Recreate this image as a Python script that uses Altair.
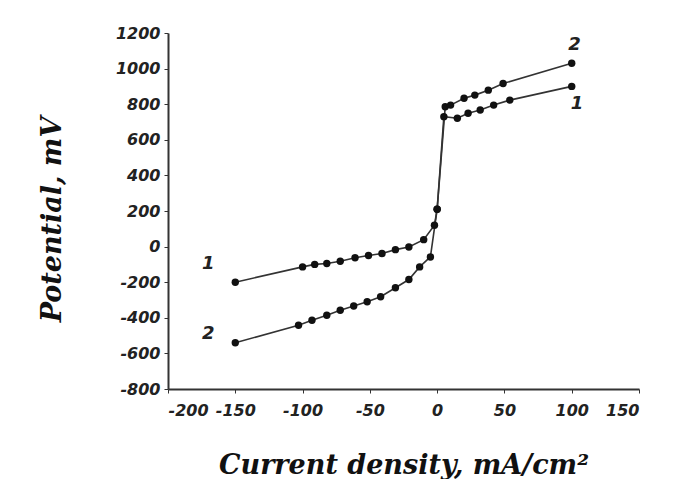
import altair as alt
import pandas as pd

# Curve 1
x1 = [-150, -100, -91, -82, -72, -61, -51, -41, -31, -21, -10, -2, 0, 5, 15, 23, 32, 42, 54, 100]
y1 = [-200, -114, -100, -95, -82, -63, -50, -39, -17, -2, 39, 120, 210, 730, 721, 749, 767, 795, 823, 900]
# Curve 2
x2 = [-150, -103, -93, -82, -72, -62, -52, -42, -31, -21, -13, -5, 0, 6, 10, 20, 28, 38, 49, 100]
y2 = [-540, -442, -414, -386, -358, -334, -310, -282, -231, -185, -114, -58, 210, 786, 795, 833, 851, 879, 916, 1030]

x_ticks = [-200, -150, -100, -50, 0, 50, 100, 150]
y_ticks = [-800, -600, -400, -200, 0, 200, 400, 600, 800, 1000, 1200]

label_text = ["1", "2", "2", "1"]
label_x = [-170, -170, 102, 104]
label_y = [-100, -490, 1130, 800]

rows = []
for i, (a, b) in enumerate(zip(x1, y1)):
    rows.append({"curve": "1", "i": i, "x": a, "y": b})
for i, (a, b) in enumerate(zip(x2, y2)):
    rows.append({"curve": "2", "i": i, "x": a, "y": b})
df = pd.DataFrame(rows)
labels = pd.DataFrame({"t": label_text, "x": label_x, "y": label_y})

xscale = alt.Scale(domain=[-200, 150], nice=False, zero=False)
yscale = alt.Scale(domain=[-800, 1200], nice=False, zero=False)

label_font = "DejaVu Sans"
title_font = "DejaVu Serif"
lab_expr = "datum.value < 0 ? '-' + abs(datum.value) : '' + datum.value"

xenc = alt.X("x:Q", scale=xscale, axis=alt.Axis(
    values=x_ticks, title="Current density, mA/cm²", grid=False,
    labelExpr=lab_expr, labelOverlap=False, tickCount=8,
    labelFont=label_font, labelFontStyle="italic", labelFontWeight="bold",
    labelFontSize=16, labelColor="#222", labelPadding=9,
    tickSize=4, tickColor="#333", domainColor="#333", domainWidth=2,
    titleFont=title_font, titleFontStyle="italic", titleFontWeight="bold",
    titleFontSize=27, titleColor="#111", titleBaseline="middle", titleY=76))
yenc = alt.Y("y:Q", scale=yscale, axis=alt.Axis(
    values=y_ticks, title="Potential, mV", grid=False,
    labelExpr=lab_expr, labelOverlap=False, tickCount=11,
    labelFont=label_font, labelFontStyle="italic", labelFontWeight="bold",
    labelFontSize=16, labelColor="#222", labelPadding=4,
    tickSize=4, tickColor="#333", domainColor="#333", domainWidth=2,
    titleFont=title_font, titleFontStyle="italic", titleFontWeight="bold",
    titleFontSize=27, titleColor="#111", titleX=-116, titleY=186,
    titleAngle=270, titleBaseline="middle"))

lines = alt.Chart(df).mark_line(color="#333", strokeWidth=1.6).encode(
    x=xenc, y=yenc, detail="curve:N", order="i:Q")
points = alt.Chart(df).mark_point(filled=True, color="#111", size=55, opacity=1).encode(
    x=xenc, y=yenc)
texts = alt.Chart(labels).mark_text(
    font=label_font, fontStyle="italic", fontWeight="bold", fontSize=18, color="#222"
).encode(x=xenc, y=yenc, text="t:N")

chart = (lines + points + texts).properties(
    width=471, height=356,
    autosize=alt.AutoSizeParams(type="none"),
    padding={"left": 160, "top": 25, "right": 20, "bottom": 90},
    background="white",
).configure_view(stroke=None).configure_axis(labelOverlap=False)

chart.save("out.html", embed_options={"renderer": "svg", "actions": False})
